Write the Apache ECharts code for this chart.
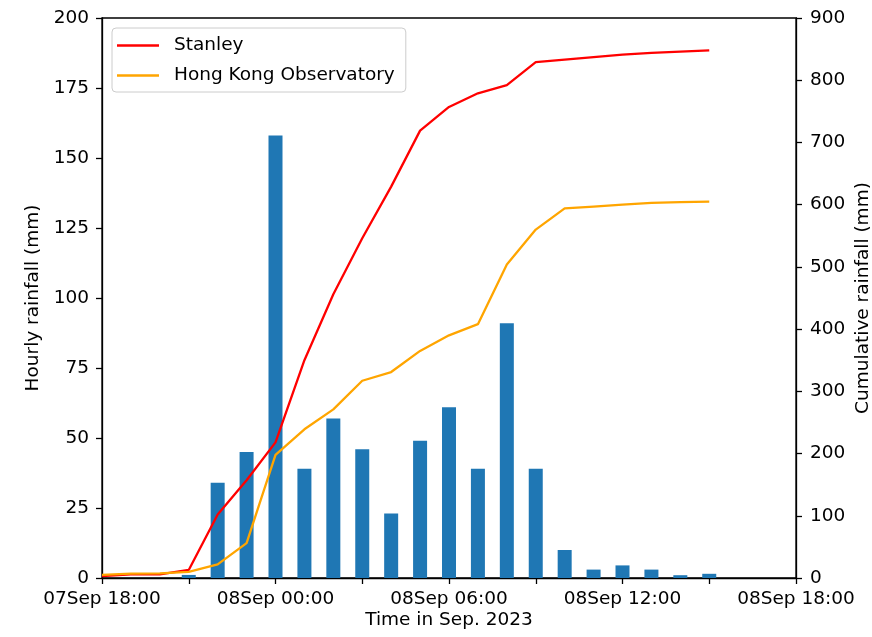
<!DOCTYPE html>
<html>
<head>
<meta charset="utf-8">
<title>Rainfall Sep 2023</title>
<script src="https://cdn.jsdelivr.net/npm/echarts@6.0.0/dist/echarts.min.js"></script>
<style>
  html, body { margin: 0; padding: 0; background: #fff; }
  #chart { width: 872px; height: 637px; }
</style>
</head>
<body>
<div id="chart"></div>
<script>
// hours counted from 07Sep 18:00
const lineHours = [0, 1, 2, 3, 4, 5, 6, 7, 8, 9, 10, 11, 12, 13, 14, 15, 16, 17, 18, 19, 20, 21];
const stanleyCum = [3, 6, 6, 13, 102, 157, 218, 350, 456, 546, 629, 719, 757, 779, 792, 829, 833, 837, 841, 844, 846, 848];
const hkoCum = [5, 7, 7.5, 10, 22, 56, 198, 239, 271, 317, 331, 365, 390, 408, 504, 560, 594, 597, 600, 603, 604, 605];

const barHours = [3, 4, 5, 6, 7, 8, 9, 10, 11, 12, 13, 14, 15, 16, 17, 18, 19, 20, 21];
const hourlyRain = [1.1, 34, 45, 158, 39, 57, 46, 23, 49, 61, 39, 91, 39, 10, 3, 4.5, 3, 1, 1.5];

const xTickLabels = ['07Sep 18:00', '08Sep 00:00', '08Sep 06:00', '08Sep 12:00', '08Sep 18:00'];

const FONT = 'DejaVu Sans';
const FS = 18.5;

const chart = echarts.init(document.getElementById('chart'));

const option = {
    animation: false,
    backgroundColor: '#fff',
    textStyle: { fontFamily: FONT },
    grid: {
        left: 102, right: 76, top: 18, bottom: 59,
        show: true, borderColor: '#000', borderWidth: 1.3,
        containLabel: false, outerBoundsMode: 'none'
    },
    legend: {
        data: ['Stanley', 'Hong Kong Observatory'],
        orient: 'vertical',
        left: 112, top: 28,
        icon: 'rect',
        itemWidth: 42, itemHeight: 2.5,
        itemGap: 11,
        padding: [8, 11, 7, 5],
        borderColor: '#cccccc', borderWidth: 1, borderRadius: 4,
        backgroundColor: 'rgba(255,255,255,0.8)',
        textStyle: { fontFamily: FONT, fontSize: FS, color: '#000', padding: [0, 0, 0, 10] }
    },
    xAxis: {
        type: 'value',
        min: 0, max: 24, interval: 3,
        name: 'Time in Sep. 2023',
        nameLocation: 'middle', nameGap: 33, nameMoveOverlap: false,
        nameTextStyle: { fontFamily: FONT, fontSize: FS, color: '#000' },
        axisLine: { lineStyle: { color: '#000', width: 1.3 } },
        axisTick: { show: true, length: 6, lineStyle: { color: '#000', width: 1.3 } },
        axisLabel: {
            fontFamily: FONT, fontSize: FS, color: '#000', margin: 12,
            showMinLabel: true, showMaxLabel: true,
            formatter: function (v) {
                return v % 6 === 0 ? xTickLabels[v / 6] : '';
            }
        },
        splitLine: { show: false }
    },
    yAxis: [{
        type: 'value',
        min: 0, max: 200, interval: 25,
        name: 'Hourly rainfall (mm)',
        nameLocation: 'middle', nameGap: 59, nameRotate: 90, nameMoveOverlap: false,
        nameTextStyle: { fontFamily: FONT, fontSize: FS, color: '#000' },
        axisLine: { show: true, lineStyle: { color: '#000', width: 1.3 } },
        axisTick: { show: true, length: 6, lineStyle: { color: '#000', width: 1.3 } },
        axisLabel: { fontFamily: FONT, fontSize: FS, color: '#000', margin: 13 },
        splitLine: { show: false }
    }, {
        type: 'value',
        position: 'right',
        min: 0, max: 900, interval: 100,
        name: 'Cumulative rainfall (mm)',
        nameLocation: 'middle', nameGap: 58, nameRotate: 90, nameMoveOverlap: false,
        nameTextStyle: { fontFamily: FONT, fontSize: FS, color: '#000' },
        axisLine: { show: true, lineStyle: { color: '#000', width: 1.3 } },
        axisTick: { show: true, length: 6, lineStyle: { color: '#000', width: 1.3 } },
        axisLabel: { fontFamily: FONT, fontSize: FS, color: '#000', margin: 14 },
        splitLine: { show: false }
    }],
    series: [{
        name: 'Hourly',
        type: 'bar',
        yAxisIndex: 0,
        barWidth: 14,
        itemStyle: { color: '#1f77b4' },
        data: barHours.map((h, i) => [h, hourlyRain[i]])
    }, {
        name: 'Stanley',
        type: 'line',
        yAxisIndex: 1,
        showSymbol: false, symbol: 'none',
        lineStyle: { color: '#ff0000', width: 2.3 },
        itemStyle: { color: '#ff0000' },
        data: lineHours.map((h, i) => [h, stanleyCum[i]])
    }, {
        name: 'Hong Kong Observatory',
        type: 'line',
        yAxisIndex: 1,
        showSymbol: false, symbol: 'none',
        lineStyle: { color: '#ffa500', width: 2.3 },
        itemStyle: { color: '#ffa500' },
        data: lineHours.map((h, i) => [h, hkoCum[i]])
    }]
};

chart.setOption(option);
</script>
</body>
</html>
